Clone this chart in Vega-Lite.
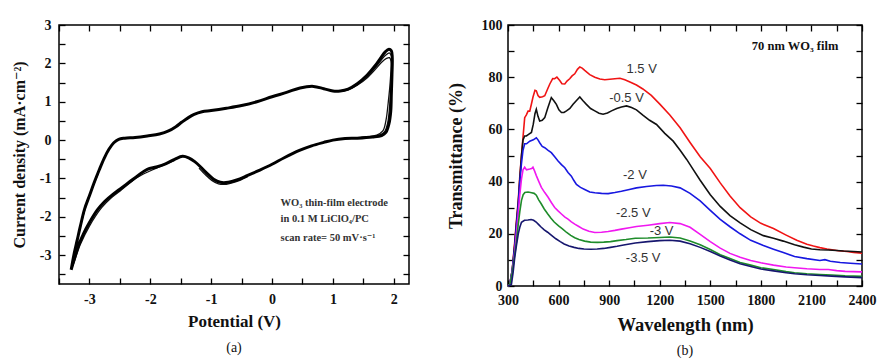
{
  "$schema": "https://vega.github.io/schema/vega-lite/v6.json",
  "background": "white",
  "padding": {"left": 10, "top": 17, "right": 5, "bottom": 2},
  "spacing": 35,
  "config": {
    "view": {"stroke": "#000", "strokeWidth": 1.5},
    "axis": {
      "grid": false,
      "domain": false,
      "offset": -6,
      "tickColor": "#000",
      "tickWidth": 1.3,
      "tickSize": 6,
      "labelFont": "Liberation Serif, DejaVu Serif",
      "labelFontWeight": "bold",
      "labelFontSize": 14,
      "labelColor": "#111",
      "titleFont": "Liberation Serif, DejaVu Serif",
      "titleFontWeight": "bold",
      "titleColor": "#111",
      "labelFlush": false,
      "labelOverlap": false,
      "labelBound": false
    },
    "title": {"font": "Liberation Serif, DejaVu Serif", "fontWeight": "normal", "fontSize": 14, "color": "#111"}
  },
  "datasets": {
    "cv": [
      {"scan":3,"i":1,"V":-3.30,"I":-3.38},{"scan":3,"i":2,"V":-3.25,"I":-2.95},{"scan":3,"i":3,"V":-3.20,"I":-2.60},
      {"scan":3,"i":4,"V":-3.15,"I":-2.25},{"scan":3,"i":5,"V":-3.08,"I":-1.80},{"scan":3,"i":6,"V":-3.00,"I":-1.45},
      {"scan":3,"i":7,"V":-2.92,"I":-1.10},{"scan":3,"i":8,"V":-2.84,"I":-0.78},{"scan":3,"i":9,"V":-2.76,"I":-0.48},
      {"scan":3,"i":10,"V":-2.68,"I":-0.24},{"scan":3,"i":11,"V":-2.60,"I":-0.07},{"scan":3,"i":12,"V":-2.52,"I":0.02},
      {"scan":3,"i":13,"V":-2.42,"I":0.05},{"scan":3,"i":14,"V":-2.25,"I":0.07},{"scan":3,"i":15,"V":-2.05,"I":0.11},
      {"scan":3,"i":16,"V":-1.85,"I":0.16},{"scan":3,"i":17,"V":-1.70,"I":0.24},{"scan":3,"i":18,"V":-1.58,"I":0.35},
      {"scan":3,"i":19,"V":-1.48,"I":0.47},{"scan":3,"i":20,"V":-1.38,"I":0.58},{"scan":3,"i":21,"V":-1.28,"I":0.67},
      {"scan":3,"i":22,"V":-1.15,"I":0.74},{"scan":3,"i":23,"V":-1.00,"I":0.77},{"scan":3,"i":24,"V":-0.75,"I":0.83},
      {"scan":3,"i":25,"V":-0.50,"I":0.90},{"scan":3,"i":26,"V":-0.25,"I":1.00},{"scan":3,"i":27,"V":0.00,"I":1.13},
      {"scan":3,"i":28,"V":0.25,"I":1.25},{"scan":3,"i":29,"V":0.46,"I":1.36},{"scan":3,"i":30,"V":0.68,"I":1.40},
      {"scan":3,"i":31,"V":0.85,"I":1.34},{"scan":3,"i":32,"V":1.00,"I":1.28},{"scan":3,"i":33,"V":1.12,"I":1.28},
      {"scan":3,"i":34,"V":1.25,"I":1.33},{"scan":3,"i":35,"V":1.40,"I":1.47},{"scan":3,"i":36,"V":1.56,"I":1.69},
      {"scan":3,"i":37,"V":1.70,"I":1.95},{"scan":3,"i":38,"V":1.78,"I":2.13},{"scan":3,"i":39,"V":1.86,"I":2.30},
      {"scan":3,"i":40,"V":1.92,"I":2.37},{"scan":3,"i":41,"V":1.96,"I":2.33},{"scan":3,"i":42,"V":1.975,"I":2.15},
      {"scan":3,"i":43,"V":1.97,"I":1.70},{"scan":3,"i":44,"V":1.96,"I":1.20},{"scan":3,"i":45,"V":1.95,"I":0.75},
      {"scan":3,"i":46,"V":1.92,"I":0.42},{"scan":3,"i":47,"V":1.87,"I":0.20},{"scan":3,"i":48,"V":1.80,"I":0.12},
      {"scan":3,"i":49,"V":1.65,"I":0.08},{"scan":3,"i":50,"V":1.40,"I":0.05},{"scan":3,"i":51,"V":1.20,"I":0.04},
      {"scan":3,"i":52,"V":1.00,"I":0.00},{"scan":3,"i":53,"V":0.85,"I":-0.06},{"scan":3,"i":54,"V":0.65,"I":-0.15},
      {"scan":3,"i":55,"V":0.45,"I":-0.27},{"scan":3,"i":56,"V":0.20,"I":-0.46},{"scan":3,"i":57,"V":0.00,"I":-0.63},
      {"scan":3,"i":58,"V":-0.20,"I":-0.78},{"scan":3,"i":59,"V":-0.40,"I":-0.92},{"scan":3,"i":60,"V":-0.58,"I":-1.04},
      {"scan":3,"i":61,"V":-0.72,"I":-1.10},{"scan":3,"i":62,"V":-0.85,"I":-1.10},{"scan":3,"i":63,"V":-0.96,"I":-1.02},
      {"scan":3,"i":64,"V":-1.06,"I":-0.88},{"scan":3,"i":65,"V":-1.16,"I":-0.72},{"scan":3,"i":66,"V":-1.27,"I":-0.56},
      {"scan":3,"i":67,"V":-1.37,"I":-0.46},{"scan":3,"i":68,"V":-1.47,"I":-0.42},{"scan":3,"i":69,"V":-1.60,"I":-0.50},
      {"scan":3,"i":70,"V":-1.75,"I":-0.62},{"scan":3,"i":71,"V":-1.90,"I":-0.70},{"scan":3,"i":72,"V":-2.05,"I":-0.76},
      {"scan":3,"i":73,"V":-2.20,"I":-0.92},{"scan":3,"i":74,"V":-2.35,"I":-1.10},{"scan":3,"i":75,"V":-2.50,"I":-1.28},
      {"scan":3,"i":76,"V":-2.62,"I":-1.42},{"scan":3,"i":77,"V":-2.75,"I":-1.60},{"scan":3,"i":78,"V":-2.87,"I":-1.82},
      {"scan":3,"i":79,"V":-3.00,"I":-2.15},{"scan":3,"i":80,"V":-3.10,"I":-2.45},{"scan":3,"i":81,"V":-3.18,"I":-2.75},
      {"scan":3,"i":82,"V":-3.25,"I":-3.10},{"scan":3,"i":83,"V":-3.30,"I":-3.38},
      {"scan":1,"i":1,"V":1.12,"I":1.27},{"scan":1,"i":2,"V":1.25,"I":1.31},{"scan":1,"i":3,"V":1.40,"I":1.43},
      {"scan":1,"i":4,"V":1.56,"I":1.62},{"scan":1,"i":5,"V":1.70,"I":1.85},{"scan":1,"i":6,"V":1.80,"I":2.03},
      {"scan":1,"i":7,"V":1.88,"I":2.13},{"scan":1,"i":8,"V":1.93,"I":2.15},{"scan":1,"i":9,"V":1.955,"I":2.05},
      {"scan":1,"i":10,"V":1.945,"I":1.60},{"scan":1,"i":11,"V":1.91,"I":1.00},{"scan":1,"i":12,"V":1.87,"I":0.50},
      {"scan":1,"i":13,"V":1.82,"I":0.24},{"scan":1,"i":14,"V":1.72,"I":0.13},{"scan":1,"i":15,"V":1.55,"I":0.08},
      {"scan":1,"i":16,"V":1.30,"I":0.05},
      {"scan":2,"i":1,"V":1.12,"I":1.28},{"scan":2,"i":2,"V":1.25,"I":1.32},{"scan":2,"i":3,"V":1.40,"I":1.45},
      {"scan":2,"i":4,"V":1.56,"I":1.66},{"scan":2,"i":5,"V":1.70,"I":1.90},{"scan":2,"i":6,"V":1.80,"I":2.10},
      {"scan":2,"i":7,"V":1.87,"I":2.22},{"scan":2,"i":8,"V":1.93,"I":2.27},{"scan":2,"i":9,"V":1.965,"I":2.18},
      {"scan":2,"i":10,"V":1.96,"I":1.60},{"scan":2,"i":11,"V":1.935,"I":0.95},{"scan":2,"i":12,"V":1.90,"I":0.45},
      {"scan":2,"i":13,"V":1.85,"I":0.22},{"scan":2,"i":14,"V":1.75,"I":0.12},{"scan":2,"i":15,"V":1.55,"I":0.08},
      {"scan":2,"i":16,"V":1.30,"I":0.05},
      {"scan":4,"i":1,"V":-1.60,"I":-0.53},{"scan":4,"i":2,"V":-1.90,"I":-0.73},{"scan":4,"i":3,"V":-2.20,"I":-0.96},
      {"scan":4,"i":4,"V":-2.50,"I":-1.33},{"scan":4,"i":5,"V":-2.64,"I":-1.50},{"scan":4,"i":6,"V":-2.80,"I":-1.76},
      {"scan":4,"i":7,"V":-3.00,"I":-2.24},{"scan":4,"i":8,"V":-3.15,"I":-2.72},{"scan":4,"i":9,"V":-3.28,"I":-3.30},
      {"scan":4,"i":10,"V":-3.23,"I":-2.80},{"scan":4,"i":11,"V":-3.14,"I":-2.20},{"scan":4,"i":12,"V":-3.04,"I":-1.62},
      {"scan":4,"i":13,"V":-2.94,"I":-1.20},{"scan":4,"i":14,"V":-2.85,"I":-0.85},
      {"scan":5,"i":1,"V":-0.40,"I":-0.95},{"scan":5,"i":2,"V":-0.60,"I":-1.09},{"scan":5,"i":3,"V":-0.75,"I":-1.15},
      {"scan":5,"i":4,"V":-0.88,"I":-1.14},{"scan":5,"i":5,"V":-0.99,"I":-1.05},{"scan":5,"i":6,"V":-1.09,"I":-0.91},
      {"scan":5,"i":7,"V":-1.20,"I":-0.73}
    ],
    "notesA": [
      {"V": 0.14, "I": -1.64, "text": "WO₃ thin-film electrode"},
      {"V": 0.14, "I": -2.05, "text": "in 0.1 M LiClO₄/PC"},
      {"V": 0.14, "I": -2.54, "text": "scan rate= 50 mV·s⁻¹"}
    ],
    "labelsB": [
      {"w": 1093, "t": 83, "text": "1.5 V"},
      {"w": 1003, "t": 72, "text": "-0.5 V"},
      {"w": 1053, "t": 42.4, "text": "-2 V"},
      {"w": 1043, "t": 28, "text": "-2.5 V"},
      {"w": 1211, "t": 21, "text": "-3 V"},
      {"w": 1102, "t": 10.8, "text": "-3.5 V"}
    ],
    "spectra": [
      {"v":"1.5 V","w":300,"t":0},{"v":"1.5 V","w":310,"t":0.5},{"v":"1.5 V","w":325,"t":6},{"v":"1.5 V","w":340,"t":17},
      {"v":"1.5 V","w":350,"t":25},{"v":"1.5 V","w":361,"t":33},{"v":"1.5 V","w":370,"t":42},{"v":"1.5 V","w":380,"t":50},
      {"v":"1.5 V","w":389,"t":57},{"v":"1.5 V","w":399,"t":64.5},{"v":"1.5 V","w":409,"t":65.6},{"v":"1.5 V","w":419,"t":67},
      {"v":"1.5 V","w":429,"t":67},{"v":"1.5 V","w":440,"t":70},{"v":"1.5 V","w":448,"t":72.3},{"v":"1.5 V","w":460,"t":75},
      {"v":"1.5 V","w":468,"t":74.8},{"v":"1.5 V","w":478,"t":73},{"v":"1.5 V","w":488,"t":72.3},{"v":"1.5 V","w":505,"t":72.5},
      {"v":"1.5 V","w":518,"t":72.9},{"v":"1.5 V","w":535,"t":75.5},{"v":"1.5 V","w":548,"t":77.4},{"v":"1.5 V","w":565,"t":79.5},
      {"v":"1.5 V","w":577,"t":79.4},{"v":"1.5 V","w":590,"t":80},{"v":"1.5 V","w":607,"t":78.7},{"v":"1.5 V","w":620,"t":77.5},
      {"v":"1.5 V","w":637,"t":77.4},{"v":"1.5 V","w":650,"t":78.5},{"v":"1.5 V","w":666,"t":79.4},{"v":"1.5 V","w":680,"t":80.5},
      {"v":"1.5 V","w":696,"t":81.3},{"v":"1.5 V","w":712,"t":83},{"v":"1.5 V","w":726,"t":83.9},{"v":"1.5 V","w":740,"t":83.5},
      {"v":"1.5 V","w":755,"t":82.6},{"v":"1.5 V","w":785,"t":81},{"v":"1.5 V","w":815,"t":80},{"v":"1.5 V","w":845,"t":79.3},
      {"v":"1.5 V","w":874,"t":79},{"v":"1.5 V","w":904,"t":79.2},{"v":"1.5 V","w":934,"t":79.4},{"v":"1.5 V","w":964,"t":79.6},
      {"v":"1.5 V","w":993,"t":79},{"v":"1.5 V","w":1030,"t":78},{"v":"1.5 V","w":1062,"t":77},{"v":"1.5 V","w":1100,"t":75.5},
      {"v":"1.5 V","w":1150,"t":73},{"v":"1.5 V","w":1202,"t":69.6},{"v":"1.5 V","w":1260,"t":65.5},{"v":"1.5 V","w":1321,"t":60.6},
      {"v":"1.5 V","w":1380,"t":55},{"v":"1.5 V","w":1440,"t":49.5},{"v":"1.5 V","w":1500,"t":45},{"v":"1.5 V","w":1559,"t":39.5},
      {"v":"1.5 V","w":1617,"t":34.5},{"v":"1.5 V","w":1677,"t":30},{"v":"1.5 V","w":1740,"t":26.5},{"v":"1.5 V","w":1800,"t":24},
      {"v":"1.5 V","w":1875,"t":22},{"v":"1.5 V","w":1950,"t":19.5},{"v":"1.5 V","w":2013,"t":17.5},{"v":"1.5 V","w":2073,"t":16},
      {"v":"1.5 V","w":2112,"t":15.3},{"v":"1.5 V","w":2150,"t":14.7},{"v":"1.5 V","w":2192,"t":14.2},{"v":"1.5 V","w":2212,"t":14},
      {"v":"1.5 V","w":2260,"t":13.5},{"v":"1.5 V","w":2311,"t":13.2},{"v":"1.5 V","w":2350,"t":12.9},{"v":"1.5 V","w":2400,"t":12.6},

      {"v":"-0.5 V","w":300,"t":0},{"v":"-0.5 V","w":310,"t":0.5},{"v":"-0.5 V","w":325,"t":6},{"v":"-0.5 V","w":340,"t":16},
      {"v":"-0.5 V","w":350,"t":24},{"v":"-0.5 V","w":361,"t":32},{"v":"-0.5 V","w":370,"t":41},{"v":"-0.5 V","w":380,"t":50},
      {"v":"-0.5 V","w":389,"t":56},{"v":"-0.5 V","w":399,"t":57.5},{"v":"-0.5 V","w":409,"t":57.5},{"v":"-0.5 V","w":420,"t":58},
      {"v":"-0.5 V","w":439,"t":58.8},{"v":"-0.5 V","w":450,"t":62},{"v":"-0.5 V","w":460,"t":66},{"v":"-0.5 V","w":468,"t":67.7},
      {"v":"-0.5 V","w":478,"t":65},{"v":"-0.5 V","w":488,"t":63.2},{"v":"-0.5 V","w":503,"t":63.5},{"v":"-0.5 V","w":518,"t":64.5},
      {"v":"-0.5 V","w":535,"t":68},{"v":"-0.5 V","w":557,"t":72.2},{"v":"-0.5 V","w":572,"t":71},{"v":"-0.5 V","w":587,"t":69.6},
      {"v":"-0.5 V","w":602,"t":67.5},{"v":"-0.5 V","w":617,"t":66.5},{"v":"-0.5 V","w":632,"t":66.5},{"v":"-0.5 V","w":647,"t":67.1},
      {"v":"-0.5 V","w":667,"t":68},{"v":"-0.5 V","w":686,"t":69.6},{"v":"-0.5 V","w":705,"t":71},{"v":"-0.5 V","w":726,"t":72.4},
      {"v":"-0.5 V","w":745,"t":71},{"v":"-0.5 V","w":765,"t":69.6},{"v":"-0.5 V","w":790,"t":68},{"v":"-0.5 V","w":815,"t":67.1},
      {"v":"-0.5 V","w":840,"t":66.2},{"v":"-0.5 V","w":864,"t":65.8},{"v":"-0.5 V","w":890,"t":66.3},{"v":"-0.5 V","w":914,"t":67.1},
      {"v":"-0.5 V","w":945,"t":68},{"v":"-0.5 V","w":973,"t":68.6},{"v":"-0.5 V","w":1003,"t":69},{"v":"-0.5 V","w":1033,"t":68.4},
      {"v":"-0.5 V","w":1062,"t":67.5},{"v":"-0.5 V","w":1100,"t":65.5},{"v":"-0.5 V","w":1140,"t":63.5},{"v":"-0.5 V","w":1181,"t":61.9},
      {"v":"-0.5 V","w":1230,"t":58.5},{"v":"-0.5 V","w":1280,"t":55.5},{"v":"-0.5 V","w":1321,"t":52},{"v":"-0.5 V","w":1360,"t":48.5},
      {"v":"-0.5 V","w":1400,"t":44.5},{"v":"-0.5 V","w":1440,"t":40.5},{"v":"-0.5 V","w":1500,"t":35},{"v":"-0.5 V","w":1559,"t":30.5},
      {"v":"-0.5 V","w":1617,"t":27},{"v":"-0.5 V","w":1677,"t":24.2},{"v":"-0.5 V","w":1740,"t":21.6},{"v":"-0.5 V","w":1815,"t":19.3},
      {"v":"-0.5 V","w":1875,"t":18.3},{"v":"-0.5 V","w":1933,"t":17.2},{"v":"-0.5 V","w":2000,"t":15.8},{"v":"-0.5 V","w":2053,"t":14.9},
      {"v":"-0.5 V","w":2100,"t":14.2},{"v":"-0.5 V","w":2150,"t":13.9},{"v":"-0.5 V","w":2200,"t":13.8},{"v":"-0.5 V","w":2250,"t":13.6},
      {"v":"-0.5 V","w":2291,"t":13.4},{"v":"-0.5 V","w":2350,"t":13.2},{"v":"-0.5 V","w":2400,"t":13},

      {"v":"-2 V","w":300,"t":0},{"v":"-2 V","w":310,"t":0.5},{"v":"-2 V","w":325,"t":6},{"v":"-2 V","w":340,"t":15},
      {"v":"-2 V","w":350,"t":23},{"v":"-2 V","w":361,"t":31},{"v":"-2 V","w":370,"t":40},{"v":"-2 V","w":380,"t":47},
      {"v":"-2 V","w":389,"t":52},{"v":"-2 V","w":399,"t":54.5},{"v":"-2 V","w":410,"t":54.5},{"v":"-2 V","w":429,"t":55.5},
      {"v":"-2 V","w":450,"t":56},{"v":"-2 V","w":468,"t":56.8},{"v":"-2 V","w":478,"t":56},{"v":"-2 V","w":488,"t":54.9},
      {"v":"-2 V","w":503,"t":53.5},{"v":"-2 V","w":518,"t":53},{"v":"-2 V","w":538,"t":52},{"v":"-2 V","w":557,"t":51.1},
      {"v":"-2 V","w":577,"t":49.5},{"v":"-2 V","w":597,"t":47.9},{"v":"-2 V","w":617,"t":46.5},{"v":"-2 V","w":637,"t":45.3},
      {"v":"-2 V","w":656,"t":43.5},{"v":"-2 V","w":676,"t":42.1},{"v":"-2 V","w":690,"t":40.5},{"v":"-2 V","w":706,"t":38.9},
      {"v":"-2 V","w":730,"t":37.8},{"v":"-2 V","w":755,"t":37},{"v":"-2 V","w":785,"t":36},{"v":"-2 V","w":815,"t":35.7},
      {"v":"-2 V","w":855,"t":35.5},{"v":"-2 V","w":894,"t":35.4},{"v":"-2 V","w":934,"t":35.8},{"v":"-2 V","w":973,"t":36.3},
      {"v":"-2 V","w":1020,"t":37},{"v":"-2 V","w":1062,"t":37.6},{"v":"-2 V","w":1122,"t":38.1},{"v":"-2 V","w":1180,"t":38.5},
      {"v":"-2 V","w":1221,"t":38.6},{"v":"-2 V","w":1270,"t":38.3},{"v":"-2 V","w":1321,"t":37.6},{"v":"-2 V","w":1380,"t":35.5},
      {"v":"-2 V","w":1440,"t":32.6},{"v":"-2 V","w":1500,"t":29},{"v":"-2 V","w":1559,"t":25.5},{"v":"-2 V","w":1617,"t":22.7},
      {"v":"-2 V","w":1677,"t":20},{"v":"-2 V","w":1740,"t":17.5},{"v":"-2 V","w":1815,"t":15.5},{"v":"-2 V","w":1875,"t":14.1},
      {"v":"-2 V","w":1933,"t":12.8},{"v":"-2 V","w":2000,"t":11.3},{"v":"-2 V","w":2073,"t":10.5},{"v":"-2 V","w":2150,"t":9.8},
      {"v":"-2 V","w":2180,"t":10.1},{"v":"-2 V","w":2212,"t":9.5},{"v":"-2 V","w":2271,"t":9},{"v":"-2 V","w":2330,"t":8.7},
      {"v":"-2 V","w":2400,"t":8.4},

      {"v":"-2.5 V","w":300,"t":0},{"v":"-2.5 V","w":310,"t":0.5},{"v":"-2.5 V","w":325,"t":5},{"v":"-2.5 V","w":340,"t":13},
      {"v":"-2.5 V","w":350,"t":20},{"v":"-2.5 V","w":361,"t":28},{"v":"-2.5 V","w":370,"t":35},{"v":"-2.5 V","w":380,"t":41},
      {"v":"-2.5 V","w":389,"t":44.5},{"v":"-2.5 V","w":399,"t":45.5},{"v":"-2.5 V","w":410,"t":44.5},{"v":"-2.5 V","w":429,"t":44.8},
      {"v":"-2.5 V","w":440,"t":45},{"v":"-2.5 V","w":448,"t":45.5},{"v":"-2.5 V","w":458,"t":44},{"v":"-2.5 V","w":468,"t":42.3},
      {"v":"-2.5 V","w":483,"t":40},{"v":"-2.5 V","w":498,"t":37.8},{"v":"-2.5 V","w":518,"t":35.8},{"v":"-2.5 V","w":538,"t":34},
      {"v":"-2.5 V","w":557,"t":32},{"v":"-2.5 V","w":577,"t":30.1},{"v":"-2.5 V","w":597,"t":28.8},{"v":"-2.5 V","w":617,"t":27.6},
      {"v":"-2.5 V","w":636,"t":26.5},{"v":"-2.5 V","w":656,"t":25.6},{"v":"-2.5 V","w":676,"t":24.6},{"v":"-2.5 V","w":696,"t":23.7},
      {"v":"-2.5 V","w":720,"t":22.8},{"v":"-2.5 V","w":746,"t":21.8},{"v":"-2.5 V","w":780,"t":21},{"v":"-2.5 V","w":815,"t":20.5},
      {"v":"-2.5 V","w":855,"t":20.6},{"v":"-2.5 V","w":894,"t":20.9},{"v":"-2.5 V","w":934,"t":21.3},{"v":"-2.5 V","w":973,"t":21.8},
      {"v":"-2.5 V","w":1020,"t":22.3},{"v":"-2.5 V","w":1062,"t":22.8},{"v":"-2.5 V","w":1130,"t":23.3},{"v":"-2.5 V","w":1200,"t":23.9},
      {"v":"-2.5 V","w":1260,"t":24.3},{"v":"-2.5 V","w":1321,"t":23.9},{"v":"-2.5 V","w":1380,"t":22.5},{"v":"-2.5 V","w":1440,"t":19.8},
      {"v":"-2.5 V","w":1500,"t":17},{"v":"-2.5 V","w":1559,"t":14.5},{"v":"-2.5 V","w":1617,"t":12.5},{"v":"-2.5 V","w":1677,"t":11},
      {"v":"-2.5 V","w":1740,"t":9.8},{"v":"-2.5 V","w":1800,"t":8.9},{"v":"-2.5 V","w":1875,"t":8},{"v":"-2.5 V","w":1950,"t":7.3},
      {"v":"-2.5 V","w":2000,"t":7},{"v":"-2.5 V","w":2073,"t":6.6},{"v":"-2.5 V","w":2150,"t":6.3},{"v":"-2.5 V","w":2200,"t":6.3},
      {"v":"-2.5 V","w":2250,"t":5.9},{"v":"-2.5 V","w":2300,"t":5.6},{"v":"-2.5 V","w":2400,"t":5.4},

      {"v":"-3 V","w":300,"t":0},{"v":"-3 V","w":310,"t":0.5},{"v":"-3 V","w":325,"t":5},{"v":"-3 V","w":340,"t":12},
      {"v":"-3 V","w":350,"t":17},{"v":"-3 V","w":361,"t":23.8},{"v":"-3 V","w":370,"t":28.5},{"v":"-3 V","w":380,"t":32.8},
      {"v":"-3 V","w":390,"t":35},{"v":"-3 V","w":400,"t":35.8},{"v":"-3 V","w":419,"t":36},{"v":"-3 V","w":440,"t":35.7},
      {"v":"-3 V","w":455,"t":35.5},{"v":"-3 V","w":468,"t":34.8},{"v":"-3 V","w":482,"t":33},{"v":"-3 V","w":496,"t":31.6},
      {"v":"-3 V","w":515,"t":29.5},{"v":"-3 V","w":535,"t":27.7},{"v":"-3 V","w":555,"t":26},{"v":"-3 V","w":574,"t":24.5},
      {"v":"-3 V","w":600,"t":23},{"v":"-3 V","w":623,"t":21.9},{"v":"-3 V","w":648,"t":20.5},{"v":"-3 V","w":672,"t":19.4},
      {"v":"-3 V","w":696,"t":18.5},{"v":"-3 V","w":721,"t":17.8},{"v":"-3 V","w":755,"t":17.2},{"v":"-3 V","w":790,"t":16.8},
      {"v":"-3 V","w":830,"t":16.7},{"v":"-3 V","w":868,"t":16.8},{"v":"-3 V","w":908,"t":17},{"v":"-3 V","w":947,"t":17.4},
      {"v":"-3 V","w":1000,"t":17.8},{"v":"-3 V","w":1055,"t":18.3},{"v":"-3 V","w":1130,"t":18.4},{"v":"-3 V","w":1200,"t":18.6},
      {"v":"-3 V","w":1260,"t":18.8},{"v":"-3 V","w":1321,"t":18.4},{"v":"-3 V","w":1380,"t":17.2},{"v":"-3 V","w":1440,"t":15.8},
      {"v":"-3 V","w":1500,"t":14},{"v":"-3 V","w":1559,"t":12},{"v":"-3 V","w":1617,"t":10.5},{"v":"-3 V","w":1677,"t":9},
      {"v":"-3 V","w":1740,"t":8},{"v":"-3 V","w":1800,"t":7},{"v":"-3 V","w":1875,"t":6.3},{"v":"-3 V","w":1950,"t":5.5},
      {"v":"-3 V","w":2000,"t":5.1},{"v":"-3 V","w":2073,"t":4.7},{"v":"-3 V","w":2150,"t":4.4},{"v":"-3 V","w":2220,"t":4.2},
      {"v":"-3 V","w":2300,"t":3.9},{"v":"-3 V","w":2400,"t":3.7},

      {"v":"-3.5 V","w":300,"t":0},{"v":"-3.5 V","w":320,"t":0.5},{"v":"-3.5 V","w":330,"t":5},{"v":"-3.5 V","w":340,"t":11},
      {"v":"-3.5 V","w":350,"t":15.5},{"v":"-3.5 V","w":361,"t":20},{"v":"-3.5 V","w":370,"t":22.5},{"v":"-3.5 V","w":380,"t":24.4},
      {"v":"-3.5 V","w":398,"t":25.2},{"v":"-3.5 V","w":418,"t":25.3},{"v":"-3.5 V","w":437,"t":25.5},{"v":"-3.5 V","w":452,"t":25.2},
      {"v":"-3.5 V","w":467,"t":24.5},{"v":"-3.5 V","w":482,"t":23.5},{"v":"-3.5 V","w":496,"t":22.6},{"v":"-3.5 V","w":515,"t":21.5},
      {"v":"-3.5 V","w":535,"t":20.6},{"v":"-3.5 V","w":560,"t":19.3},{"v":"-3.5 V","w":584,"t":18.1},{"v":"-3.5 V","w":610,"t":17},
      {"v":"-3.5 V","w":633,"t":16.1},{"v":"-3.5 V","w":662,"t":15.3},{"v":"-3.5 V","w":692,"t":14.8},{"v":"-3.5 V","w":720,"t":14.4},
      {"v":"-3.5 V","w":751,"t":14.2},{"v":"-3.5 V","w":790,"t":14.1},{"v":"-3.5 V","w":829,"t":14.2},{"v":"-3.5 V","w":868,"t":14.4},
      {"v":"-3.5 V","w":908,"t":14.8},{"v":"-3.5 V","w":947,"t":15.2},{"v":"-3.5 V","w":986,"t":15.7},{"v":"-3.5 V","w":1055,"t":16.5},
      {"v":"-3.5 V","w":1130,"t":17},{"v":"-3.5 V","w":1200,"t":17.4},{"v":"-3.5 V","w":1260,"t":17.5},{"v":"-3.5 V","w":1321,"t":17.2},
      {"v":"-3.5 V","w":1380,"t":16.2},{"v":"-3.5 V","w":1440,"t":14.8},{"v":"-3.5 V","w":1500,"t":13.2},{"v":"-3.5 V","w":1559,"t":11.5},
      {"v":"-3.5 V","w":1617,"t":10},{"v":"-3.5 V","w":1677,"t":8.5},{"v":"-3.5 V","w":1740,"t":7.5},{"v":"-3.5 V","w":1800,"t":6.5},
      {"v":"-3.5 V","w":1875,"t":5.8},{"v":"-3.5 V","w":1950,"t":5.1},{"v":"-3.5 V","w":2000,"t":4.7},{"v":"-3.5 V","w":2073,"t":4.3},
      {"v":"-3.5 V","w":2150,"t":4},{"v":"-3.5 V","w":2220,"t":3.8},{"v":"-3.5 V","w":2300,"t":3.5},{"v":"-3.5 V","w":2400,"t":3.2}
    ]
  },
  "hconcat": [
    {
      "width": 350,
      "height": 259,
      "title": {"text": "(a)", "orient": "bottom", "frame": "group", "offset": 12},
      "layer": [
        {
          "data": {"name": "cv"},
          "transform": [{"filter": "datum.scan !== 3"}],
          "mark": {"type": "line", "color": "#111", "strokeWidth": 1.3, "interpolate": "catmull-rom"},
          "encoding": {
            "x": {"field": "V", "type": "quantitative", "scale": {"domain": [-3.5, 2.25], "nice": false, "zero": false}, "axis": null},
            "y": {"field": "I", "type": "quantitative", "scale": {"domain": [-3.75, 3], "nice": false, "zero": false}, "axis": null},
            "detail": {"field": "scan", "type": "nominal"},
            "order": {"field": "i", "type": "quantitative"}
          }
        },
        {
          "data": {"name": "cv"},
          "transform": [{"filter": "datum.scan === 3"}],
          "mark": {"type": "line", "color": "#000", "strokeWidth": 3, "interpolate": "catmull-rom"},
          "encoding": {
            "x": {
              "field": "V", "type": "quantitative",
              "axis": {
                "orient": "bottom", "title": "Potential (V)", "titleFontSize": 17, "titlePadding": 7,
                "values": [-3.5, -3, -2.5, -2, -1.5, -1, -0.5, 0, 0.5, 1, 1.5, 2],
                "labelExpr": "datum.value % 1 === 0 ? '' + datum.value : ''",
                "labelPadding": 8,
                "encode": {"ticks": {"update": {"y": {"signal": "datum.value % 1 === 0 ? 0 : 3"}}}}
              }
            },
            "y": {
              "field": "I", "type": "quantitative",
              "axis": {
                "orient": "left", "title": "Current density (mA·cm⁻²)", "titleFontSize": 16, "titlePadding": 12,
                "values": [-3.5, -3, -2.5, -2, -1.5, -1, -0.5, 0, 0.5, 1, 1.5, 2, 2.5, 3],
                "labelExpr": "datum.value % 1 === 0 ? '' + datum.value : ''",
                "labelPadding": 8,
                "encode": {"ticks": {"update": {"x": {"signal": "datum.value % 1 === 0 ? 0 : -3"}}}}
              }
            },
            "order": {"field": "i", "type": "quantitative"}
          }
        },
        {
          "data": {"name": "notesA"},
          "mark": {"type": "text", "align": "left", "baseline": "middle", "font": "Liberation Serif, DejaVu Serif", "fontWeight": "bold", "fontSize": 10.5, "color": "#333"},
          "encoding": {
            "x": {
              "field": "V", "type": "quantitative",
              "axis": {
                "orient": "top", "title": null, "labels": false,
                "values": [-3.5, -3, -2.5, -2, -1.5, -1, -0.5, 0, 0.5, 1, 1.5, 2],
                "encode": {"ticks": {"update": {"y": {"signal": "datum.value % 1 === 0 ? 0 : -3"}}}}
              }
            },
            "y": {
              "field": "I", "type": "quantitative",
              "axis": {
                "orient": "right", "title": null, "labels": false,
                "values": [-3.5, -3, -2.5, -2, -1.5, -1, -0.5, 0, 0.5, 1, 1.5, 2, 2.5, 3],
                "encode": {"ticks": {"update": {"x": {"signal": "datum.value % 1 === 0 ? 0 : 3"}}}}
              }
            },
            "text": {"field": "text", "type": "nominal"}
          }
        }
      ],
      "resolve": {"axis": {"x": "independent", "y": "independent"}}
    },
    {
      "width": 354,
      "height": 261,
      "title": {"text": "(b)", "orient": "bottom", "frame": "group", "offset": 10},
      "layer": [
        {
          "data": {"name": "spectra"},
          "mark": {"type": "line", "strokeWidth": 1.6},
          "encoding": {
            "x": {
              "field": "w", "type": "quantitative",
              "scale": {"domain": [300, 2400], "nice": false, "zero": false},
              "axis": {
                "orient": "bottom", "title": "Wavelength (nm)", "titleFontSize": 18.5, "titlePadding": 8,
                "values": [300, 450, 600, 750, 900, 1050, 1200, 1350, 1500, 1650, 1800, 1950, 2100, 2250, 2400],
                "labelExpr": "datum.value % 300 === 0 ? '' + datum.value : ''",
                "labelPadding": 7,
                "encode": {"ticks": {"update": {"y": {"signal": "datum.value % 300 === 0 ? 0 : 3"}}}}
              }
            },
            "y": {
              "field": "t", "type": "quantitative",
              "scale": {"domain": [0, 100], "nice": false},
              "axis": {
                "orient": "left", "title": "Transmittance (%)", "titleFontSize": 18, "titlePadding": 16,
                "values": [0, 10, 20, 30, 40, 50, 60, 70, 80, 90, 100],
                "labelExpr": "datum.value % 20 === 0 ? '' + datum.value : ''",
                "labelPadding": 6,
                "encode": {"ticks": {"update": {"x": {"signal": "datum.value % 20 === 0 ? 0 : -3"}}}}
              }
            },
            "color": {
              "field": "v", "type": "nominal", "legend": null,
              "scale": {
                "domain": ["1.5 V", "-0.5 V", "-2 V", "-2.5 V", "-3 V", "-3.5 V"],
                "range": ["#f01414", "#111111", "#1818e0", "#f018f0", "#1e8c2a", "#16166e"]
              }
            },
            "order": {"field": "w", "type": "quantitative"}
          }
        },
        {
          "data": {"name": "labelsB"},
          "mark": {"type": "text", "align": "center", "baseline": "middle", "font": "Liberation Sans", "fontSize": 13, "color": "#333"},
          "encoding": {
            "x": {
              "field": "w", "type": "quantitative",
              "axis": {
                "orient": "top", "title": null, "labels": false,
                "values": [300, 450, 600, 750, 900, 1050, 1200, 1350, 1500, 1650, 1800, 1950, 2100, 2250, 2400],
                "encode": {"ticks": {"update": {"y": {"signal": "datum.value % 300 === 0 ? 0 : -3"}}}}
              }
            },
            "y": {
              "field": "t", "type": "quantitative",
              "axis": {
                "orient": "right", "title": null, "labels": false,
                "values": [0, 10, 20, 30, 40, 50, 60, 70, 80, 90, 100],
                "encode": {"ticks": {"update": {"x": {"signal": "datum.value % 20 === 0 ? 0 : 3"}}}}
              }
            },
            "text": {"field": "text", "type": "nominal"}
          }
        },
        {
          "data": {"values": [{"w": 2003, "t": 92, "text": "70 nm WO₃ film"}]},
          "mark": {"type": "text", "align": "center", "baseline": "middle", "font": "Liberation Serif, DejaVu Serif", "fontWeight": "bold", "fontSize": 12.5, "color": "#111"},
          "encoding": {
            "x": {"field": "w", "type": "quantitative", "axis": null},
            "y": {"field": "t", "type": "quantitative", "axis": null},
            "text": {"field": "text", "type": "nominal"}
          }
        }
      ],
      "resolve": {"axis": {"x": "independent", "y": "independent"}}
    }
  ]
}
